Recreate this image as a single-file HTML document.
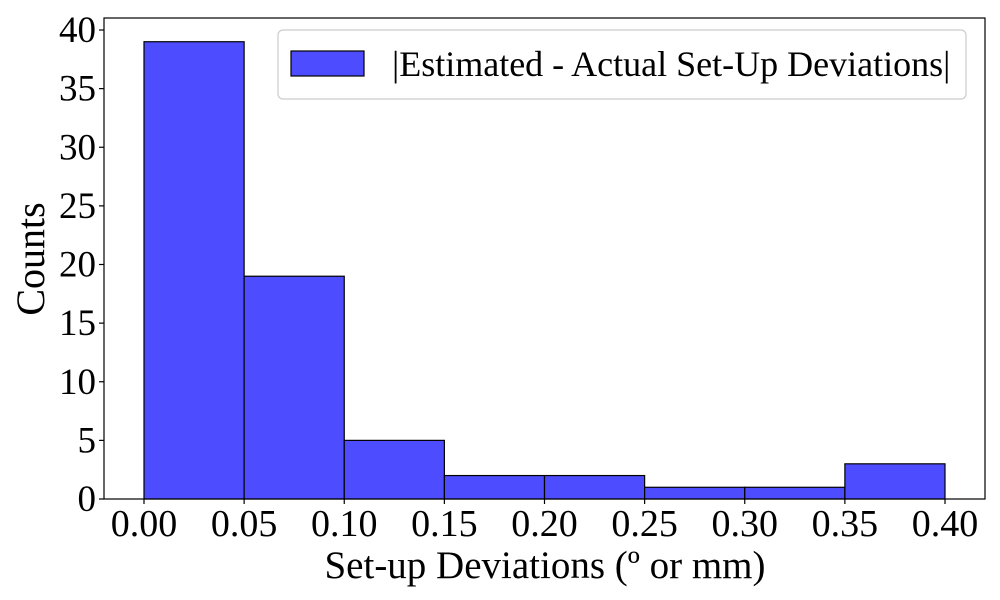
<!DOCTYPE html>
<html><head><meta charset="utf-8"><style>
html,body{margin:0;padding:0;background:#fff;width:1000px;height:600px;overflow:hidden}
text{font-family:"Liberation Serif",serif;fill:#000}
</style></head><body>
<svg id="chart" width="1000" height="600" xmlns="http://www.w3.org/2000/svg">
<g id="plot"></g>
</svg>
<script>
const binEdges=[0,0.05,0.10,0.15,0.20,0.25,0.30,0.35,0.40];
const counts=[39,19,5,2,2,1,1,3];
const xTicks=[0,0.05,0.10,0.15,0.20,0.25,0.30,0.35,0.40];
const xTickLabels=["0.00","0.05","0.10","0.15","0.20","0.25","0.30","0.35","0.40"];
const yTicks=[0,5,10,15,20,25,30,35,40];

const NS="http://www.w3.org/2000/svg";
const svg=document.getElementById('plot');
const L=104,R=985,T=18,B=499;
const x=v=>144+(v/0.40)*(945-144);
const y=v=>499-(v/40)*(499-30);
function mk(tag,attrs,parent){const e=document.createElementNS(NS,tag);for(const k in attrs)e.setAttribute(k,attrs[k]);(parent||svg).appendChild(e);return e;}

for(let i=0;i<counts.length;i++){
  const r=mk('rect',{x:x(binEdges[i]),y:y(counts[i]),width:x(binEdges[i+1])-x(binEdges[i]),height:y(0)-y(counts[i]),fill:'rgb(77,77,255)',stroke:'#000','stroke-width':1.2});
  
  
}
const frame=mk('rect',{x:L,y:T,width:R-L,height:B-T,fill:'none',stroke:'#000','stroke-width':1.2});



xTicks.forEach((t,i)=>{
  mk('line',{x1:x(t),x2:x(t),y1:B,y2:B+5,stroke:'#000','stroke-width':1.2});
  const tx=mk('text',{x:x(t),y:536,'text-anchor':'middle','font-size':38});
  tx.textContent=xTickLabels[i];
  
  
});
yTicks.forEach(t=>{
  mk('line',{x1:L-5,x2:L,y1:y(t),y2:y(t),stroke:'#000','stroke-width':1.2});
  const tx=mk('text',{x:96,y:y(t)+12,'text-anchor':'end','font-size':37});
  tx.textContent=t;
  
  
});
const xl=mk('text',{x:545,y:578,'text-anchor':'middle','font-size':39});
xl.textContent='Set-up Deviations (º or mm)';


const yl=mk('text',{x:0,y:0,'text-anchor':'middle','font-size':40,transform:'translate(44,259) rotate(-90)'});
yl.textContent='Counts';



const lg=mk('g',{});


mk('rect',{x:278,y:30,width:688,height:69,rx:5,fill:'#fff',stroke:'#ccc','stroke-width':1.2},lg);
const sw=mk('rect',{x:291,y:51,width:73,height:25,fill:'rgb(77,77,255)',stroke:'#000','stroke-width':1.2},lg);


const lt=mk('text',{x:392,y:76,'font-size':36},lg);
lt.textContent='|Estimated - Actual Set-Up Deviations|';


</script>
</body></html>
